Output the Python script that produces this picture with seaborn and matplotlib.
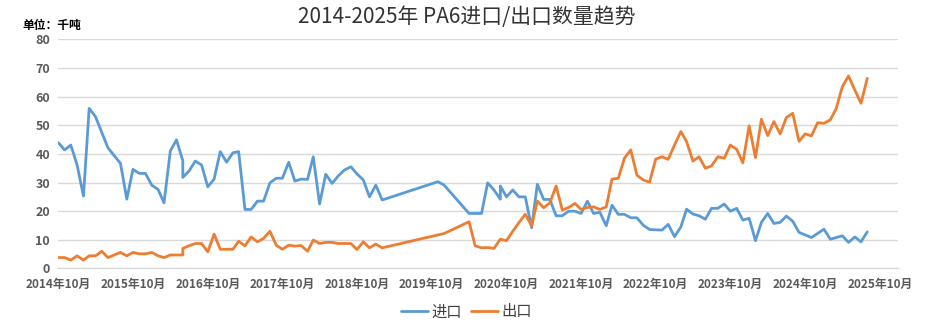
import pandas as pd
import matplotlib.pyplot as plt
import seaborn as sns

# ==========================================================
# DATA (unit: thousand tonnes)
# ==========================================================

months = [
    "2014-10", "2014-11", "2014-12", "2015-01", "2015-02", "2015-03", "2015-04", "2015-05",
    "2015-06", "2015-08", "2015-09", "2015-10", "2015-11", "2015-12", "2016-01", "2016-02",
    "2016-03", "2016-04", "2016-05", "2016-06", "2016-06", "2016-07", "2016-08", "2016-09",
    "2016-10", "2016-11", "2016-12", "2017-01", "2017-02", "2017-03", "2017-04", "2017-05",
    "2017-06", "2017-07", "2017-08", "2017-09", "2017-10", "2017-11", "2017-12", "2018-01",
    "2018-02", "2018-03", "2018-04", "2018-05", "2018-06", "2018-07", "2018-08", "2018-09",
    "2018-10", "2018-11", "2018-12", "2019-01", "2019-02", "2019-11", "2019-12", "2020-04",
    "2020-05", "2020-06", "2020-07", "2020-08", "2020-09", "2020-09", "2020-10", "2020-11",
    "2020-12", "2021-01", "2021-02", "2021-03", "2021-04", "2021-05", "2021-06", "2021-07",
    "2021-08", "2021-09", "2021-10", "2021-11", "2021-12", "2022-01", "2022-02", "2022-03",
    "2022-04", "2022-05", "2022-06", "2022-07", "2022-08", "2022-09", "2022-10", "2022-11",
    "2022-12", "2023-01", "2023-02", "2023-03", "2023-04", "2023-05", "2023-06", "2023-07",
    "2023-08", "2023-09", "2023-10", "2023-11", "2023-12", "2024-01", "2024-02", "2024-03",
    "2024-04", "2024-05", "2024-06", "2024-07", "2024-08", "2024-09", "2024-10", "2024-11",
    "2024-12", "2025-01", "2025-02", "2025-03", "2025-04", "2025-05", "2025-06", "2025-07",
    "2025-08",
]

imports = [
    43.9, 41.4, 43.1, 36.1, 25.3, 55.9, 53.0, 47.6,
    42.1, 36.7, 24.2, 34.6, 33.2, 33.2, 29.1, 27.6,
    22.9, 41.1, 44.9, 37.6, 31.8, 34.0, 37.5, 36.1,
    28.5, 31.2, 40.8, 37.1, 40.4, 40.8, 20.6, 20.6,
    23.5, 23.5, 29.9, 31.5, 31.5, 37.1, 30.5, 31.2,
    31.1, 39.0, 22.5, 32.9, 29.7, 32.3, 34.4, 35.5,
    33.0, 30.9, 25.0, 29.1, 23.9, 30.3, 29.1, 19.2,
    19.2, 19.2, 29.9, 27.4, 24.2, 28.8, 25.0, 27.4,
    25.0, 25.0, 14.2, 29.4, 24.1, 24.1, 18.4, 18.4,
    20.0, 20.0, 19.2, 23.5, 19.2, 19.6, 14.9, 22.1,
    18.9, 18.9, 17.7, 17.7, 15.1, 13.6, 13.5, 13.4,
    15.4, 11.1, 14.5, 20.7, 19.0, 18.4, 17.2, 21.0,
    21.0, 22.5, 20.0, 21.0, 16.9, 17.5, 9.7, 16.1,
    19.2, 15.7, 16.1, 18.3, 16.5, 12.6, None, 10.8,
    None, 13.7, 10.2, None, 11.4, 9.1, 11.0, 9.3,
    12.8,
]

exports = [
    3.8, 3.8, 2.9, 4.4, 2.9, 4.4, 4.4, 6.0,
    3.8, 5.6, 4.4, 5.6, 5.1, 5.1, 5.6, 4.4,
    3.8, 4.7, 4.7, 4.7, 7.0, 7.9, 8.7, 8.7,
    5.8, 12.0, 6.7, 6.7, 6.7, 9.5, 7.9, 11.0,
    9.3, 10.5, 13.0, 8.1, 6.7, 8.1, 7.8, 8.0,
    6.0, 9.9, 8.7, 9.1, 9.1, 8.7, 8.7, 8.7,
    6.6, 9.3, 7.2, 8.5, 7.2, None, 12.2, 16.3,
    7.9, 7.2, 7.3, 7.0, 10.2, None, 9.7, 13.0,
    16.0, 18.9, 14.9, 23.5, 21.2, 22.9, 28.8, 20.4,
    21.3, 22.7, 20.6, 21.3, 21.5, 20.6, 21.5, 31.2,
    31.5, 38.5, 41.4, 32.6, 30.9, 30.1, 38.2, 39.0,
    38.1, 43.1, 47.8, 44.3, 37.5, 39.0, 35.0, 35.8,
    39.0, 38.5, 43.1, 41.6, 36.9, 49.8, 38.7, 52.1,
    46.4, 51.3, 47.0, 52.7, 54.2, 44.4, 47.0, 46.3,
    50.9, 50.7, 51.9, 55.7, 63.5, 67.2, 62.3, 57.7,
    66.4,
]

tick_years = list(range(2014, 2026))
tick_labels = [f"{y}年10月" for y in tick_years]
y_ticks = list(range(0, 81, 10))

COLORS = {"进口": "#5B9BD5", "出口": "#ED7D31"}

# ==========================================================
# PLOT
# ==========================================================

sns.set_style("white")
plt.rcParams["font.family"] = ["Noto Sans CJK SC", "DejaVu Sans"]

df = pd.DataFrame({"月份": pd.to_datetime(months), "进口": imports, "出口": exports})
long_df = df.melt(id_vars="月份", var_name="类型", value_name="数量").dropna()

fig = plt.figure(figsize=(9.39, 3.31), dpi=100)
ax = fig.add_axes([0.0621, 0.189, 0.894, 0.692])

sns.lineplot(
    data=long_df, x="月份", y="数量", hue="类型", palette=COLORS,
    estimator=None, sort=False, linewidth=2.0, ax=ax,
)

ax.set_xlim(pd.Timestamp("2014-10-01"), pd.Timestamp("2025-12-28"))
ax.set_ylim(0, 80)
ax.set_yticks(y_ticks)
ax.set_xticks([pd.Timestamp(f"{y}-10-01") for y in tick_years])
ax.set_xticklabels(tick_labels)
ax.set_xlabel("")
ax.set_ylabel("")

ax.grid(axis="y", color="#D9D9D9", linewidth=1)
ax.set_axisbelow(True)
for side in ["left", "right", "top"]:
    ax.spines[side].set_visible(False)
ax.spines["bottom"].set_color("#D9D9D9")
ax.spines["bottom"].set_linewidth(1)

ax.tick_params(axis="y", length=0, pad=6, labelsize=9, labelcolor="#595959")
ax.tick_params(axis="x", length=4, width=1, color="#D9D9D9", pad=3,
               labelsize=8.5, labelcolor="#595959")
for lab in ax.get_yticklabels() + ax.get_xticklabels():
    lab.set_fontweight("bold")

sns.move_legend(
    ax, "center", bbox_to_anchor=(0.486, -0.19), ncol=2, frameon=False,
    title=None, fontsize=11, handlelength=1.8, handletextpad=0.2, columnspacing=0.6,
)
for t in ax.get_legend().get_texts():
    t.set_color("#404040")

fig.text(0.497, 0.949, "2014-2025年 PA6进口/出口数量趋势", ha="center", va="center",
         fontsize=15, color="#333333")
fig.text(0.0234, 0.923, "单位：千吨", ha="left", va="center",
         fontsize=8.5, fontweight="bold", color="black")

fig.savefig("out.png", dpi=100)
plt.close(fig)
